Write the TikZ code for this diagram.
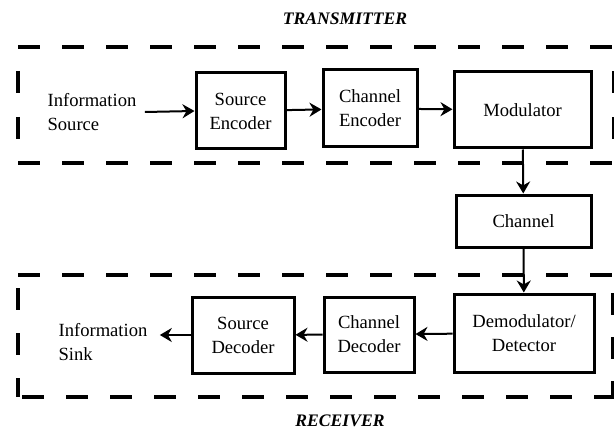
\documentclass[tikz,border=0pt]{standalone}
\usepackage{fontspec}
\setmainfont{Liberation Serif}
\newfontfamily\serf{Liberation Serif}
\usetikzlibrary{arrows.meta}
\tikzset{
  blk/.style={draw, line width=1.5pt, align=center, inner sep=0pt,
    font=\serf\fontsize{9.3}{12}\selectfont},
  lbl/.style={align=left, inner sep=0pt, font=\serf\fontsize{9.3}{12}\selectfont},
  arr/.style={-{Stealth[length=6pt,width=7pt]}, line width=1pt},
  bdr/.style={line width=1.6pt, dash pattern=on 11pt off 11pt},
  ttl/.style={anchor=base, font=\serf\fontsize{8.8}{10}\selectfont\bfseries\itshape},
}
\begin{document}
\begin{tikzpicture}[x=0.5pt,y=-0.5pt]
  \useasboundingbox (0,0) rectangle (614,427);
  % transmitter frame
  \draw[bdr] (18,47) -- (614,47);
  \draw[bdr] (18,163) -- (614,163);
  \draw[bdr, dash pattern=on 11pt off 12pt, dash phase=11pt] (18,47) -- (18,163);
  \draw[bdr, dash pattern=on 11pt off 12pt, dash phase=11pt] (614,47) -- (614,163);
  % receiver frame
  \draw[bdr] (18,275) -- (614,275);
  \draw[bdr, dash phase=20pt] (18,397) -- (614,397);
  \draw[bdr, dash pattern=on 11pt off 11.5pt, dash phase=16pt] (18,275) -- (18,397);
  \draw[bdr, dash phase=13pt] (613,275) -- (613,397);
  \node[ttl] (tx) at (345,25) {TRANSMITTER};
  \node[ttl] (rx) at (340,426) {RECEIVER};
  % transmitter chain
  \node[lbl] (src) at (92,112) {Information\\Source};
  \node[blk, minimum width=44.5pt, minimum height=38pt] (senc) at (240.5,111) {Source\\Encoder};
  \node[blk, minimum width=47pt, minimum height=38.5pt] (cenc) at (370,108.5) {Channel\\Encoder};
  \node[blk, minimum width=68.5pt, minimum height=38pt] (mod) at (522.5,110) {Modulator};
  \node[blk, minimum width=67.5pt, minimum height=26pt] (chan) at (523.5,221) {Channel};
  % receiver chain
  \node[blk, minimum width=70pt, minimum height=39pt] (demod) at (524,333) {Demodulator/\\Detector};
  \node[blk, minimum width=45pt, minimum height=37.5pt] (cdec) at (369,334.5) {Channel\\Decoder};
  \node[blk, minimum width=51pt, minimum height=38pt] (sdec) at (243,335) {Source\\Decoder};
  \node[lbl] (sink) at (103,342) {Information\\Sink};
  \draw[arr] (src.east) ++(4pt,0) -- (senc.west |- 0,111);
  \draw[arr] (senc) -- (cenc);
  \draw[arr] (cenc) -- (mod);
  \draw[arr] (mod) -- (chan);
  \draw[arr] (chan) -- (demod);
  \draw[arr] (demod) -- (cdec);
  \draw[arr] (cdec) -- (sdec);
  \draw[arr] (sdec.west |- 0,335) -- ([xshift=6pt]sink.east |- 0,335);
\end{tikzpicture}
\end{document}
